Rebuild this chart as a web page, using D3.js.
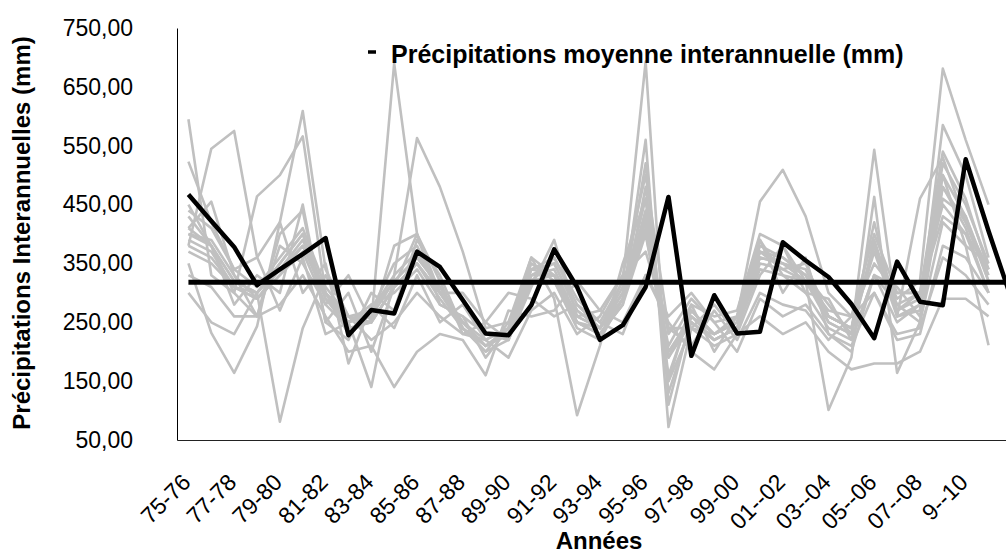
<!DOCTYPE html>
<html>
<head>
<meta charset="utf-8">
<script src="https://d3js.org/d3.v7.min.js"></script>
<style>
  body { margin: 0px; background: #fff; }
  text { font-family: "Liberation Sans", Arial, Helvetica, sans-serif; fill: #000; }
  .tick text { font-size: 23px; }
  .axis-title { font-size: 24px; font-weight: bold; }
  .legend { font-size: 25px; font-weight: bold; }
</style>
</head>
<body>
<svg id="chart" width="1006" height="551"></svg>
<script>
// categories (the last one is cut off by the picture's right edge)
var annees = ["75-76","76-77","77-78","78-79","79-80","80-81","81-82","82-83","83-84","84-85",
  "85-86","86-87","87-88","88-89","89-90","90-91","91-92","92-93","93-94","94-95",
  "95-96","96-97","97-98","98-99","99-00","00--01","01--02","02--03","03--04","04--05",
  "05--06","06--07","07--08","08--09","9--10","10--11","11--12"];

var yTicks = [50, 150, 250, 350, 450, 550, 650, 750];

// black series
var serieNoire = [467, 422, 378, 313, 340, 366, 393, 228, 271, 265, 370, 344, 288, 231, 228, 279,
  374, 310, 220, 245, 310, 463, 193, 296, 231, 234, 386, 355, 327, 281, 223, 353, 285, 279, 527, 405, 290];

// mean
var moyenne = 318;

// grey series (stations)
var s1  = [595,330,300,260,400,440,250,220,300,270,390,330,240,200,250,360,330,250,230,280,480,150,240,210,230,390,330,300,240,220,330,250,280,520,450,350];
var s2  = [380,545,575,361,270,360,230,250,280,300,340,280,260,230,220,320,360,290,250,320,400,210,280,260,270,400,380,320,270,260,350,300,300,430,400,300];
var s3  = [523,420,340,360,420,609,340,260,250,380,400,320,230,220,240,350,320,240,220,290,520,130,250,220,240,370,340,350,260,240,420,260,270,585,500,360];
var s4  = [430,380,300,464,500,566,300,230,270,350,380,300,250,210,230,330,350,270,240,300,460,160,270,230,250,380,360,330,280,230,380,280,300,540,460,340];
var s5  = [300,250,230,300,81,240,330,260,220,250,300,260,230,250,300,290,260,280,250,230,330,260,300,250,200,290,260,280,230,210,300,230,240,360,330,280];
var s6  = [350,232,164,243,420,300,350,180,280,240,330,250,280,220,190,270,300,230,260,330,370,240,210,270,220,300,280,270,220,260,300,220,230,380,360,300];
var s7  = [410,455,330,260,380,350,280,330,250,690,400,300,300,250,220,310,390,260,270,330,500,240,240,280,230,330,380,300,290,220,330,310,260,500,380,350];
var s8  = [400,390,330,290,340,390,300,250,140,330,563,480,370,240,250,340,350,270,240,310,430,190,270,230,250,360,350,340,260,240,380,270,300,480,420,340];
var s9  = [440,410,340,310,360,410,310,260,270,330,370,300,250,220,240,340,360,280,240,320,693,110,260,220,240,370,360,330,250,230,390,270,290,500,430,320];
var s10 = [410,380,320,300,350,400,290,250,270,320,360,310,240,210,230,330,330,260,240,290,560,72,240,230,260,370,350,320,260,240,370,260,280,460,430,330];
var s11 = [390,370,310,300,340,380,300,260,250,310,350,300,250,210,240,340,330,250,240,300,420,230,290,250,260,455,509,430,300,260,400,300,300,450,400,340];
var s12 = [400,380,320,300,350,400,300,250,260,320,360,310,250,210,230,330,340,260,240,300,440,200,260,230,250,360,350,330,260,240,380,290,320,681,560,450];
var s13 = [380,360,310,290,330,380,290,240,250,310,350,300,240,200,220,320,330,250,230,290,410,200,250,220,240,350,340,320,250,230,543,260,460,530,420,320];
var s14 = [450,380,280,330,300,450,250,300,200,310,400,280,260,190,240,360,290,92,210,350,460,150,280,200,260,390,300,360,230,200,330,280,250,480,410,300];
var s15 = [370,350,310,290,330,370,280,240,250,310,350,290,240,210,230,320,320,250,230,280,400,190,250,220,240,340,330,320,101,190,463,164,250,420,380,211];
var s16 = [330,310,260,260,280,330,260,200,210,140,200,230,220,160,270,260,270,320,270,250,330,250,200,170,230,260,230,250,200,170,180,180,200,290,290,260];
var seriesGrises = [s1, s2, s3, s4, s5, s6, s7, s8, s9, s10, s11, s12, s13, s14, s15, s16];

var svg = d3.select("#chart"),
    plotLeft = 177, plotTop = 28, plotBottom = 440,
    step = 22.86;

svg.append("rect").attr("width", 1006).attr("height", 551).attr("fill", "#fff");

var x = d3.scaleBand()
    .domain(annees)
    .range([plotLeft, plotLeft + step * annees.length])
    .paddingInner(0).paddingOuter(0);

var y = d3.scaleLinear().domain([50, 750]).range([plotBottom, plotTop]);

function cx(i) { return x(annees[i]) + x.bandwidth() / 2; }

var line = d3.line()
    .x(function(d, i) { return cx(i); })
    .y(function(d) { return y(d); });

// grey lines
svg.append("g").selectAll("path")
  .data(seriesGrises)
  .enter().append("path")
    .attr("d", line)
    .attr("fill", "none")
    .attr("stroke", "#c0c0c0")
    .attr("stroke-width", 2.6)
    .attr("stroke-linejoin", "round");

// black line
svg.append("path")
    .attr("d", line(serieNoire))
    .attr("fill", "none")
    .attr("stroke", "#000")
    .attr("stroke-width", 4.5)
    .attr("stroke-linejoin", "round");

// mean line
svg.append("path")
    .attr("d", line(annees.map(function() { return moyenne; })))
    .attr("fill", "none")
    .attr("stroke", "#000")
    .attr("stroke-width", 5);

// y axis
var yAxis = d3.axisLeft(y)
    .tickValues(yTicks)
    .tickSize(0)
    .tickPadding(44)
    .tickFormat(function(d) { return d3.format(".2f")(d).replace(".", ","); });

svg.append("g")
    .attr("transform", "translate(" + plotLeft + ",0)")
    .call(yAxis)
    .call(function(g) { g.select(".domain").attr("stroke", "#000").attr("stroke-width", 1); })
    .selectAll("text").attr("fill", "#000");

// x axis, one label every two years, last category is off the picture
var xAxis = d3.axisBottom(x)
    .tickValues(annees.filter(function(d, i) { return i % 2 === 0 && i < 36; }))
    .tickSize(0)
    .tickPadding(0);

var gx = svg.append("g")
    .attr("transform", "translate(0," + plotBottom + ")")
    .call(xAxis);
gx.select(".domain").attr("stroke", "#222").attr("stroke-width", 1.2);
gx.selectAll("text")
    .attr("fill", "#000")
    .attr("text-anchor", "end")
    .attr("dy", "0.35em")
    .attr("transform", "translate(-2,38) rotate(-45)");

// axis titles
svg.append("text")
    .attr("class", "axis-title")
    .attr("text-anchor", "middle")
    .attr("transform", "translate(30,233) rotate(-90)")
    .text("Précipitations Interannuelles (mm)");

svg.append("text")
    .attr("class", "axis-title")
    .attr("text-anchor", "middle")
    .attr("x", 599)
    .attr("y", 549)
    .text("Années");

// legend
svg.append("line")
    .attr("x1", 368).attr("x2", 376)
    .attr("y1", 52).attr("y2", 52)
    .attr("stroke", "#000").attr("stroke-width", 3.5);

svg.append("text")
    .attr("class", "legend")
    .attr("x", 391)
    .attr("y", 63)
    .text("Précipitations moyenne interannuelle (mm)");
</script>
</body>
</html>
